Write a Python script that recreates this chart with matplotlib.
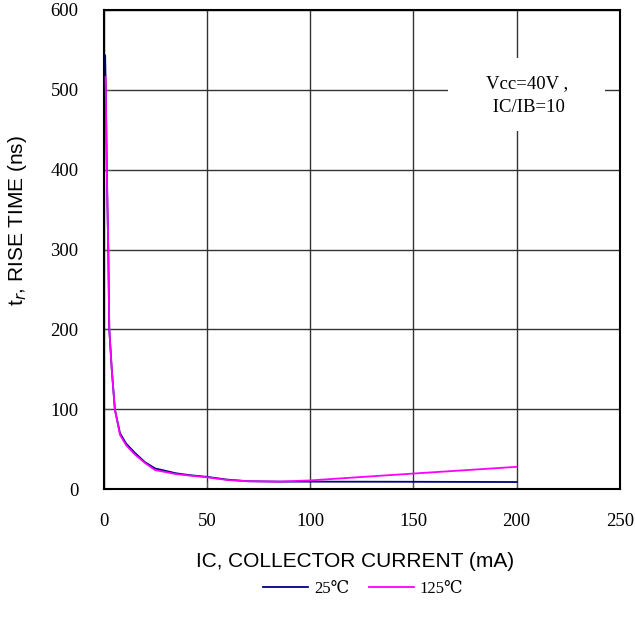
import matplotlib
matplotlib.use("Agg")
import matplotlib.pyplot as plt
from matplotlib.patches import Rectangle

# rise time vs collector current
ic_25 = [0.8, 1.1, 1.6, 2.3, 2.8, 4.0, 5.5, 8.0, 11, 15, 20, 25, 35, 42, 50, 60, 70, 85, 100, 150, 200]
tr_25 = [543, 500, 400, 300, 200, 150, 100, 70, 57, 46, 34, 26, 20, 17.5, 15.5, 12, 10, 9.5, 9.5, 9.3, 9.0]

ic_125 = [1.0, 1.1, 1.6, 2.3, 2.8, 4.0, 5.5, 8.0, 11, 15, 20, 25, 35, 42, 50, 60, 70, 85, 100, 150, 200]
tr_125 = [516, 500, 400, 300, 200, 150, 100, 68, 55, 44, 33, 24, 19, 17, 15, 11.5, 10, 9.5, 11, 19.6, 28]

x_ticks = [0, 50, 100, 150, 200, 250]
y_ticks = [0, 100, 200, 300, 400, 500, 600]

SERIF = ["Liberation Serif", "DejaVu Serif"]
SANS = ["Liberation Sans", "DejaVu Sans"]

fig = plt.figure(figsize=(6.35, 6.24), dpi=100)
ax = fig.add_axes([0.163, 0.216, 0.813, 0.768])

ax.plot(ic_25, tr_25, color="#000080", linewidth=1.3, label="25℃", zorder=3)
ax.plot(ic_125, tr_125, color="#ff00ff", linewidth=1.3, label="125℃", zorder=3)

ax.set_xlim(0, 250)
ax.set_ylim(0, 600)
ax.set_xticks(x_ticks)
ax.set_yticks(y_ticks)
ax.grid(True, color="#333333", linewidth=1.0)
ax.set_axisbelow(True)
ax.tick_params(direction="in", length=5, color="#555555", labelsize=13.5)
ax.tick_params(axis="x", pad=17)
ax.tick_params(axis="y", pad=18)
for lbl in ax.get_xticklabels() + ax.get_yticklabels():
    lbl.set_family(SERIF)
for sp in ax.spines.values():
    sp.set_linewidth(1.5)

ax.set_xlabel("IC, COLLECTOR CURRENT (mA)", family=SANS, fontsize=15)
ax.xaxis.set_label_coords(0.488, -0.131)
ax.set_ylabel("t$_r$, RISE TIME (ns)", family=SANS, fontsize=15)
ax.yaxis.set_label_coords(-0.144, 0.56)

# white note box hiding the grid behind the test conditions
ax.add_patch(Rectangle((167, 449), 76, 91, facecolor="white", edgecolor="none", zorder=1.5))
ax.text(205, 493, "Vcc=40V ,\n IC/IB=10", ha="center", va="center",
        family=SERIF, fontsize=13.5, linespacing=1.5, zorder=4)

fig.legend(loc="center", bbox_to_anchor=(0.572, 0.056), ncol=2, frameon=False,
           handlelength=2.7, columnspacing=1.2, handletextpad=0.35,
           prop={"family": SERIF, "size": 12})

fig.savefig("out.png", dpi=100)
